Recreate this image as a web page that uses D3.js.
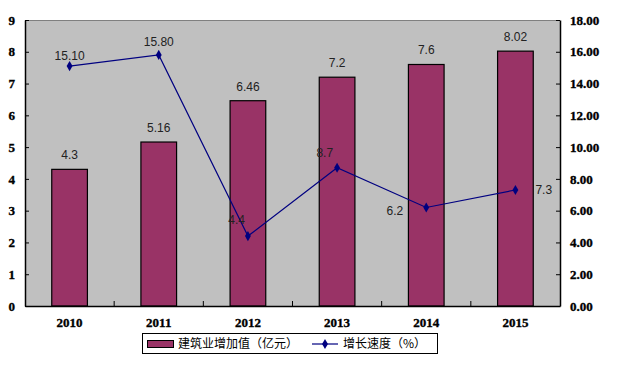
<!DOCTYPE html>
<html>
<head>
<meta charset="utf-8">
<script src="https://cdn.jsdelivr.net/npm/d3@7"></script>
<style>
  body { margin: 0; background: #fff; }
  .tick text { font-family: "Liberation Serif", serif; font-weight: bold; font-size: 13px; stroke: #000; stroke-width: 0.35px; }
  .lbl { font-family: "Liberation Sans", Arial, sans-serif; font-size: 12px; fill: #222; }
  .leg { font-family: "Noto Sans CJK SC", sans-serif; font-size: 12px; fill: #000; }
</style>
</head>
<body>
<div class="container"></div>
<script>
// data
var years = ["2010", "2011", "2012", "2013", "2014", "2015"];
var added = [4.3, 5.16, 6.46, 7.2, 7.6, 8.02];        // 建筑业增加值（亿元）
var growth = [15.10, 15.80, 4.4, 8.7, 6.2, 7.3];      // 增长速度（%）
var addedLabels = ["4.3", "5.16", "6.46", "7.2", "7.6", "8.02"];
var growthLabels = ["15.10", "15.80", "4.4", "8.7", "6.2", "7.3"];
var leftTicks = [0, 1, 2, 3, 4, 5, 6, 7, 8, 9];
var rightTicks = [0, 2, 4, 6, 8, 10, 12, 14, 16, 18];

var width = 618, height = 369;
var plot = {left: 25, top: 20, right: 560, bottom: 306};

var svg = d3.select(".container").append("svg")
    .attr("width", width)
    .attr("height", height);

var x = d3.scaleBand().domain(years).range([plot.left, plot.right]).paddingInner(0).paddingOuter(0);
var yL = d3.scaleLinear().domain([0, 9]).range([plot.bottom, plot.top]);
var yR = d3.scaleLinear().domain([0, 18]).range([plot.bottom, plot.top]);

// plot background
svg.append("rect")
    .attr("x", plot.left).attr("y", plot.top)
    .attr("width", plot.right - plot.left).attr("height", plot.bottom - plot.top)
    .attr("fill", "#c0c0c0");
svg.append("line")
    .attr("x1", plot.left).attr("x2", plot.right)
    .attr("y1", plot.top + 0.5).attr("y2", plot.top + 0.5)
    .attr("stroke", "#808080");

// bars
var barW = x.bandwidth() * 0.4;
svg.selectAll(".bar").data(added).enter()
    .append("rect")
    .attr("class", "bar")
    .attr("x", (d, i) => x(years[i]) + (x.bandwidth() - barW) / 2)
    .attr("y", d => yL(d))
    .attr("width", barW)
    .attr("height", d => yL(0) - yL(d))
    .attr("fill", "#993366")
    .attr("stroke", "#000")
    .attr("stroke-width", 1.2);

svg.selectAll(".barLbl").data(added).enter()
    .append("text")
    .attr("class", "lbl")
    .attr("x", (d, i) => x(years[i]) + x.bandwidth() / 2)
    .attr("y", d => yL(d) - 10)
    .attr("text-anchor", "middle")
    .text((d, i) => addedLabels[i]);

// axes
var xAxis = svg.append("g")
    .attr("transform", "translate(0," + plot.bottom + ")")
    .call(d3.axisBottom(x).tickSize(0).tickPadding(12));
xAxis.select(".domain").attr("stroke", "#000").attr("stroke-width", 1.5);
// tick marks between categories
svg.selectAll(".catTick").data(years.slice(1)).enter()
    .append("line")
    .attr("x1", d => x(d)).attr("x2", d => x(d))
    .attr("y1", plot.bottom).attr("y2", plot.bottom - 5)
    .attr("stroke", "#000");

var leftAxis = svg.append("g")
    .attr("transform", "translate(" + plot.left + ",0)")
    .call(d3.axisLeft(yL).tickValues(leftTicks).tickFormat(d3.format("d")).tickSize(-4).tickSizeOuter(0).tickPadding(10));
leftAxis.select(".domain").attr("stroke", "#000").attr("stroke-width", 1.5);

var rightAxis = svg.append("g")
    .attr("transform", "translate(" + plot.right + ",0)")
    .call(d3.axisRight(yR).tickValues(rightTicks).tickFormat(d3.format(".2f")).tickSize(-4).tickSizeOuter(0).tickPadding(10));
rightAxis.select(".domain").attr("stroke", "#000").attr("stroke-width", 1.5);
svg.selectAll(".tick text").attr("fill", "#000");
svg.selectAll(".tick line").attr("stroke", "#000");

// growth line
var line = d3.line()
    .x((d, i) => x(years[i]) + x.bandwidth() / 2)
    .y(d => yR(d));
svg.append("path")
    .datum(growth)
    .attr("d", line)
    .attr("fill", "none")
    .attr("stroke", "#000080")
    .attr("stroke-width", 1.2);

var diamond = d3.symbol().type(d3.symbolDiamond).size(30);
svg.selectAll(".mark").data(growth).enter()
    .append("path")
    .attr("d", diamond)
    .attr("transform", (d, i) => "translate(" + (x(years[i]) + x.bandwidth() / 2) + "," + yR(d) + ")")
    .attr("fill", "#000080");

// label offsets follow where the picture placed each label
var growthOffsets = [[0, -6, "middle"], [0, -9, "middle"], [-3, -12, "end"], [-4, -11, "end"], [-23, 8, "end"], [20, 4, "start"]];
svg.selectAll(".lineLbl").data(growth).enter()
    .append("text")
    .attr("class", "lbl")
    .attr("x", (d, i) => x(years[i]) + x.bandwidth() / 2 + growthOffsets[i][0])
    .attr("y", (d, i) => yR(d) + growthOffsets[i][1])
    .attr("text-anchor", (d, i) => growthOffsets[i][2])
    .text((d, i) => growthLabels[i]);

// legend
var leg = svg.append("g");
leg.append("rect")
    .attr("x", 142.5).attr("y", 333.5).attr("width", 295).attr("height", 20)
    .attr("fill", "#fff").attr("stroke", "#000");
leg.append("rect")
    .attr("x", 147.5).attr("y", 340.5).attr("width", 26).attr("height", 7)
    .attr("fill", "#993366").attr("stroke", "#000");
leg.append("text").attr("class", "leg").attr("x", 178).attr("y", 348).text("建筑业增加值（亿元）");
leg.append("line")
    .attr("x1", 312).attr("x2", 338).attr("y1", 344).attr("y2", 344)
    .attr("stroke", "#000080").attr("stroke-width", 1.2);
leg.append("path").attr("d", diamond).attr("transform", "translate(325,344)").attr("fill", "#000080");
leg.append("text").attr("class", "leg").attr("x", 343).attr("y", 348).text("增长速度（%）");
</script>
</body>
</html>
